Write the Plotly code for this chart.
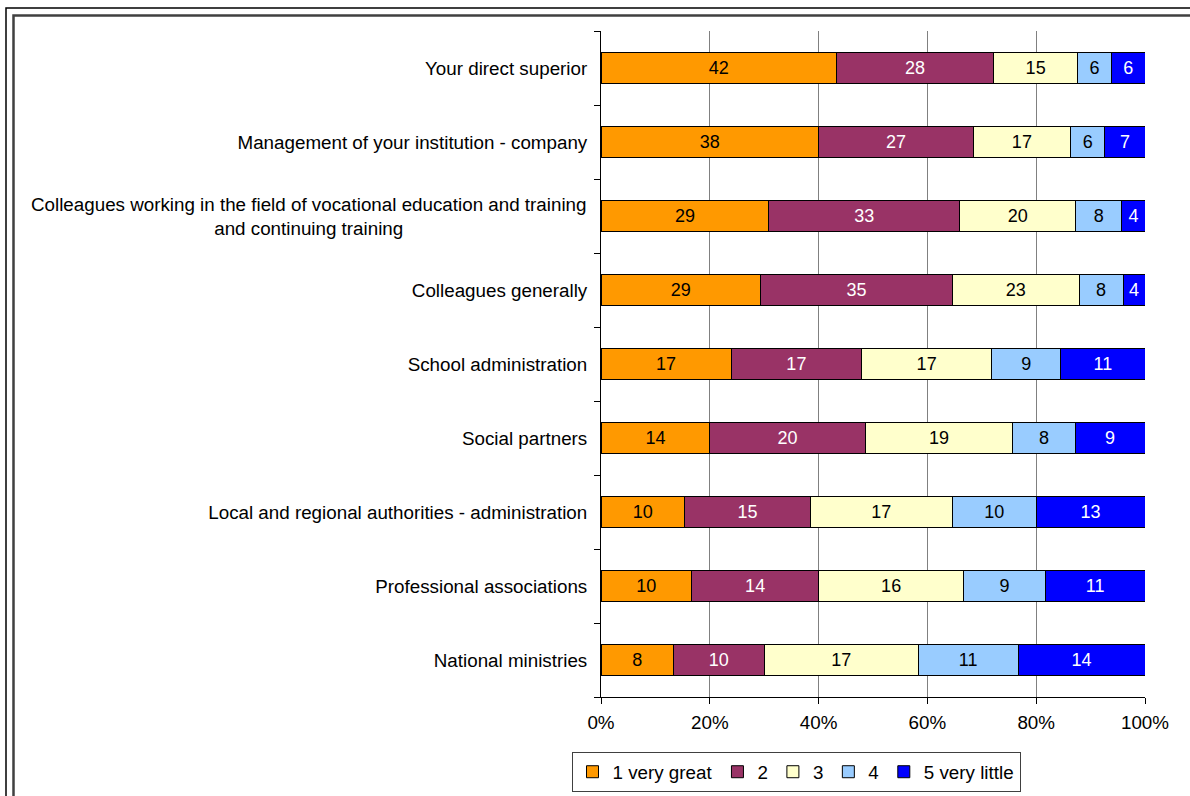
import plotly.graph_objects as go

categories = [
    "Your direct superior",
    "Management of your institution - company",
    "Colleagues working in the field of vocational education and training<br>and continuing training",
    "Colleagues generally",
    "School administration",
    "Social partners",
    "Local and regional authorities - administration",
    "Professional associations",
    "National ministries",
]
series_names = ["1 very great", "2", "3", "4", "5 very little"]
v1 = [42, 38, 29, 29, 17, 14, 10, 10, 8]
v2 = [28, 27, 33, 35, 17, 20, 15, 14, 10]
v3 = [15, 17, 20, 23, 17, 19, 17, 16, 17]
v4 = [6, 6, 8, 8, 9, 8, 10, 9, 11]
v5 = [6, 7, 4, 4, 11, 9, 13, 11, 14]
x_ticks = [0, 20, 40, 60, 80, 100]
x_ticklabels = ["0%", "20%", "40%", "60%", "80%", "100%"]

colors = ["#FF9900", "#993366", "#FFFFCC", "#99CCFF", "#0000FF"]
text_colors = ["black", "white", "black", "black", "white"]
FONT = "Liberation Sans, Arial, sans-serif"
FS = 18.8

fig = go.Figure()
for name, vals, c, tc in zip(series_names, [v1, v2, v3, v4, v5], colors, text_colors):
    fig.add_trace(go.Bar(
        name=name, y=categories, x=vals, orientation="h",
        marker=dict(color=c, line=dict(color="black", width=1)),
        text=[str(v) for v in vals], textposition="inside",
        insidetextanchor="middle", textangle=0,
        textfont=dict(color=tc, size=18, family=FONT),
        hoverinfo="skip",
    ))

# tick texts: use a centered annotation for the multi-line label
ticktext = [("" if "<br>" in c else c) for c in categories]
for c in categories:
    if "<br>" in c:
        fig.add_annotation(xref="paper", yref="y", x=0, y=c, text=c,
                           xanchor="right", yanchor="middle", align="center",
                           xshift=-13, showarrow=False,
                           font=dict(size=FS, family=FONT, color="black"))

L, R, T, B = 601, 45, 31, 99
W, H = 1190, 796
pw, ph = W - L - R, H - T - B
def px(x): return (x - L) / pw
def py(y): return (H - B - y) / ph

fig.update_layout(
    barmode="stack", barnorm="percent", bargap=0.59,
    width=W, height=H,
    margin=dict(l=L, r=R, t=T, b=B),
    paper_bgcolor="white", plot_bgcolor="white",
    font=dict(family=FONT, size=FS, color="black"),
    showlegend=True,
    legend=dict(orientation="h", xref="container", yref="container",
                x=796 / W, xanchor="center", y=(H - 752) / H, yanchor="top",
                bordercolor="#404040", borderwidth=1, font=dict(size=FS, family=FONT),
                itemwidth=30, traceorder="normal"),
    xaxis=dict(range=[0, 100], tickvals=x_ticks, ticktext=x_ticklabels,
               showgrid=True, gridcolor="#808080", gridwidth=1,
               showline=True, linecolor="black", linewidth=1,
               ticks="outside", ticklen=6, tickcolor="black", zeroline=False,
               ticklabelstandoff=2, tickfont=dict(size=FS)),
    yaxis=dict(categoryorder="array", categoryarray=categories, autorange="reversed",
               tickmode="array", tickvals=categories, ticktext=ticktext,
               tickson="boundaries", ticks="outside", ticklen=6, tickcolor="black",
               showline=True, linecolor="black", linewidth=1, showgrid=False,
               ticklabelstandoff=9, tickfont=dict(size=FS)),
    shapes=[
        dict(type="rect", xref="paper", yref="paper", x0=px(6), x1=px(1200), y0=py(805), y1=py(8),
             line=dict(color="black", width=1.5), layer="below"),
        dict(type="rect", xref="paper", yref="paper", x0=px(13.5), x1=px(1200), y0=py(805), y1=py(15.5),
             line=dict(color="#404040", width=2.5), layer="below"),
    ],
)
fig.write_html("out.html", config={"displayModeBar": False},
               post_script="document.body.style.margin='0px';document.body.style.overflow='hidden';")
